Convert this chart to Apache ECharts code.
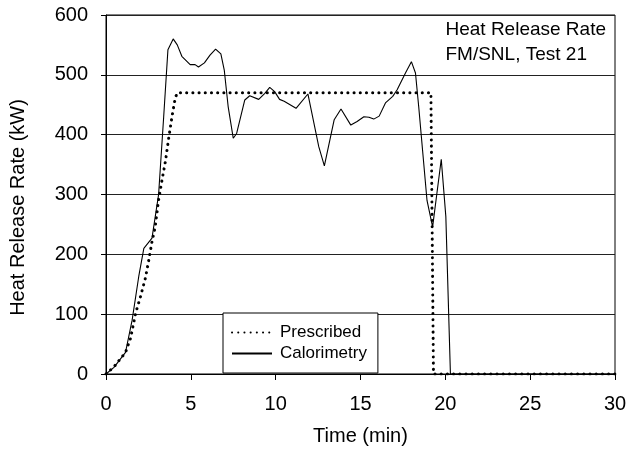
<!DOCTYPE html>
<html><head><meta charset="utf-8">
<script src="https://cdn.jsdelivr.net/npm/echarts@6/dist/echarts.min.js"></script>
<style>html,body{margin:0;padding:0;background:#fff}#c{width:631px;height:452px}</style>
</head><body><div id="c"></div>
<script>
const prescribedT = [0, 0.47, 1.15, 1.45, 1.74, 2.03, 2.32, 2.52, 2.71, 2.9, 3.1, 3.3, 3.5, 3.7, 3.9, 4.08, 4.2, 19.15, 19.3, 30];
const prescribedV = [0, 12, 36, 60, 101, 129, 160, 190, 221, 246, 291, 324, 355, 395, 432, 461, 470, 470, 0, 0];
const calT = [0, 0.47, 1.15, 1.54, 1.93, 2.23, 2.71, 3.1, 3.4, 3.65, 3.96, 4.2, 4.47, 4.96, 5.25, 5.45, 5.8, 6.13, 6.46, 6.77, 6.97, 7.2, 7.5, 7.7, 8.18, 8.47, 9.0, 9.36, 9.65, 9.94, 10.23, 10.5, 11.2, 11.9, 12.0, 12.54, 12.87, 13.45, 13.85, 14.43, 14.8, 15.2, 15.5, 15.78, 16.1, 16.47, 16.9, 17.16, 17.65, 18.0, 18.24, 18.43, 18.92, 19.25, 19.76, 20.03, 20.3, 30];
const calV = [0, 11, 36, 90, 163, 210, 227, 300, 430, 542, 560, 550, 531, 517, 517, 513, 520, 533, 543, 535, 508, 447, 394, 402, 458, 465, 459, 469, 479, 472, 459, 456, 444, 468, 465, 380, 348, 425, 443, 416, 422, 430, 429, 426, 431, 453, 464, 475, 503, 522, 503, 447, 290, 246, 359, 263, 0, 0];
const xTicks = [0, 5, 10, 15, 20, 25, 30];
const yTicks = [0, 100, 200, 300, 400, 500, 600];
const seriesNames = ['Prescribed', 'Calorimetry'];
const annotation = ['Heat Release Rate', 'FM/SNL, Test 21'];

const FONT = '"Liberation Sans", Arial, sans-serif';
const chart = echarts.init(document.getElementById('c'), null, {renderer: 'canvas'});
const dotStyle = {color: '#000', width: 3, type: [0.1, 6.1], cap: 'round'};
const solidStyle = {color: '#000', width: 1.1};
chart.setOption({
  animation: false,
  backgroundColor: '#fff',
  grid: {left: 102, right: 16, top: 15, bottom: 78, containLabel: false,
         show: true, borderColor: '#000', borderWidth: 1, backgroundColor: 'transparent'},
  xAxis: {
    type: 'value', min: xTicks[0], max: xTicks[xTicks.length - 1], interval: 5,
    name: 'Time (min)', nameLocation: 'middle', nameGap: 52,
    nameTextStyle: {fontFamily: FONT, fontSize: 20, color: '#000'},
    axisLine: {lineStyle: {color: '#000', width: 1}},
    axisTick: {show: true, length: 6, lineStyle: {color: '#000'}},
    axisLabel: {fontFamily: FONT, fontSize: 20, color: '#000', margin: 20},
    splitLine: {show: false}
  },
  yAxis: {
    type: 'value', min: yTicks[0], max: yTicks[yTicks.length - 1], interval: 100,
    name: 'Heat Release Rate (kW)', nameLocation: 'middle', nameGap: 78, nameRotate: 90,
    nameTextStyle: {fontFamily: FONT, fontSize: 20, color: '#000', padding: [0, 26, 0, 0]},
    axisLine: {show: true, lineStyle: {color: '#000', width: 1}},
    axisTick: {show: true, length: 5, lineStyle: {color: '#000'}},
    axisLabel: {fontFamily: FONT, fontSize: 20, color: '#000', margin: 18},
    splitLine: {show: true, lineStyle: {color: '#222', width: 1}}
  },
  legend: {
    orient: 'vertical', left: 223, top: 313,
    backgroundColor: '#fff', borderColor: '#000', borderWidth: 1, borderRadius: 0,
    padding: [11, 11, 11, 8], itemGap: 4, itemWidth: 40, itemHeight: 17,
    itemStyle: {opacity: 0},
    textStyle: {fontFamily: FONT, fontSize: 17, color: '#000', padding: [0, 0, 0, 3]},
    data: seriesNames
  },
  graphic: [{
    type: 'text', right: 25, top: 18,
    style: {text: annotation.join('\n'), fontFamily: FONT, fontSize: 19, fill: '#000', align: 'right', lineHeight: 24.5}
  }],
  series: [
    {
      name: seriesNames[0], type: 'line', showSymbol: false, symbol: 'none', z: 3,
      data: prescribedT.map((t, i) => [t, prescribedV[i]]),
      lineStyle: dotStyle,
      itemStyle: {color: '#000'}
    },
    {
      name: seriesNames[1], type: 'line', showSymbol: false, symbol: 'none', z: 2,
      data: calT.map((t, i) => [t, calV[i]]),
      lineStyle: solidStyle,
      itemStyle: {color: '#000'}
    }
  ]
});
</script></body></html>
